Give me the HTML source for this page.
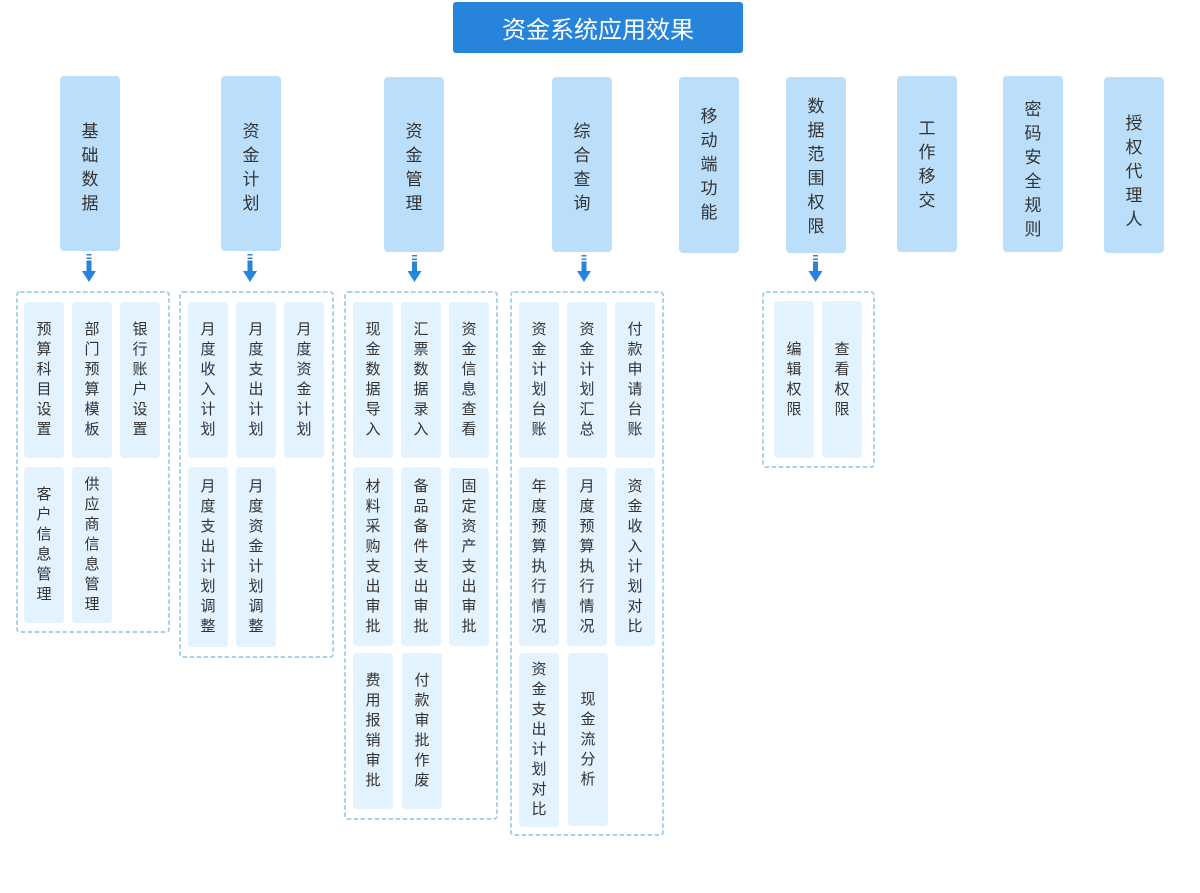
<!DOCTYPE html>
<html>
<head>
<meta charset="utf-8">
<style>
  html,body{margin:0;padding:0;background:#fff;}
  body{width:1200px;height:893px;position:relative;overflow:hidden;
    font-family:"Liberation Sans","Noto Sans CJK SC",sans-serif;color:#333;}
  .title{position:absolute;left:453px;top:2px;width:290px;height:51px;background:#2684db;
    border-radius:3px;color:#fff;font-size:24px;display:flex;align-items:center;justify-content:center;letter-spacing:0px;}
  .top{position:absolute;width:60px;background:#bbdffa;border-radius:4px;box-sizing:border-box;
    display:flex;align-items:center;justify-content:center;font-size:17px;line-height:24px;}
  .top span{display:block;width:18px;text-align:center;word-break:break-all;}
  .in{position:absolute;width:40px;background:#e2f2fe;border-radius:4px;
    display:flex;align-items:center;justify-content:center;font-size:15px;line-height:20px;}
  .in span{display:block;width:16px;text-align:center;word-break:break-all;}
  svg{position:absolute;left:0;top:0;}
</style>
</head>
<body>
<svg width="1200" height="893" viewBox="0 0 1200 893">
  <g fill="none" stroke="#9ecbe0" stroke-width="1.7" stroke-dasharray="4.5 2.5">
    <rect x="17" y="292" width="152" height="340" rx="3"/>
    <rect x="180" y="292" width="153" height="365" rx="3"/>
    <rect x="345" y="292" width="152" height="527" rx="3"/>
    <rect x="511" y="292" width="152" height="543" rx="3"/>
    <rect x="763" y="292" width="111" height="175" rx="3"/>
  </g>
  <g fill="#2684db">
    <g transform="translate(89,0)">
      <rect x="-2.5" y="254" width="5" height="1.5"/><rect x="-2.5" y="257.5" width="5" height="1.5"/>
      <rect x="-2.5" y="260.5" width="5" height="12"/><polygon points="-7,271 7,271 0,282"/>
    </g>
    <g transform="translate(250,0)">
      <rect x="-2.5" y="254" width="5" height="1.5"/><rect x="-2.5" y="257.5" width="5" height="1.5"/>
      <rect x="-2.5" y="260.5" width="5" height="12"/><polygon points="-7,271 7,271 0,282"/>
    </g>
    <g transform="translate(414.5,0)">
      <rect x="-2.5" y="255" width="5" height="1.5"/><rect x="-2.5" y="258.5" width="5" height="1.5"/>
      <rect x="-2.5" y="261.5" width="5" height="11"/><polygon points="-7,271 7,271 0,282"/>
    </g>
    <g transform="translate(584,0)">
      <rect x="-2.5" y="255" width="5" height="1.5"/><rect x="-2.5" y="258.5" width="5" height="1.5"/>
      <rect x="-2.5" y="261.5" width="5" height="11"/><polygon points="-7,271 7,271 0,282"/>
    </g>
    <g transform="translate(815.5,0)">
      <rect x="-2.5" y="255" width="5" height="1.5"/><rect x="-2.5" y="258.5" width="5" height="1.5"/>
      <rect x="-2.5" y="261.5" width="5" height="11"/><polygon points="-7,271 7,271 0,282"/>
    </g>
  </g>
</svg>

<div class="title">资金系统应用效果</div>

<div class="top" style="left:60px;top:76px;height:175px;padding-top:9px;"><span>基础数据</span></div>
<div class="top" style="left:221px;top:76px;height:175px;padding-top:8px;"><span>资金计划</span></div>
<div class="top" style="left:384px;top:77px;height:175px;padding-top:6px;"><span>资金管理</span></div>
<div class="top" style="left:552px;top:77px;height:175px;padding-top:7px;"><span>综合查询</span></div>
<div class="top" style="left:679px;top:77px;height:176px;"><span>移动端功能</span></div>
<div class="top" style="left:786px;top:77px;height:176px;padding-top:3px;"><span>数据范围权限</span></div>
<div class="top" style="left:897px;top:76px;height:176px;padding-top:1px;"><span>工作移交</span></div>
<div class="top" style="left:1003px;top:76px;height:176px;padding-top:11px;"><span>密码安全规则</span></div>
<div class="top" style="left:1104px;top:77px;height:176px;padding-top:13px;"><span>授权代理人</span></div>

<!-- C1 -->
<div class="in" style="left:24px;top:302px;height:156px;"><span>预算科目设置</span></div>
<div class="in" style="left:72px;top:302px;height:156px;"><span>部门预算模板</span></div>
<div class="in" style="left:120px;top:302px;height:156px;"><span>银行账户设置</span></div>
<div class="in" style="left:24px;top:467px;height:156px;"><span>客户信息管理</span></div>
<div class="in" style="left:72px;top:467px;height:156px;"><span>供应商信息管理</span></div>

<!-- C2 -->
<div class="in" style="left:188px;top:302px;height:156px;"><span>月度收入计划</span></div>
<div class="in" style="left:236px;top:302px;height:156px;"><span>月度支出计划</span></div>
<div class="in" style="left:284px;top:302px;height:156px;"><span>月度资金计划</span></div>
<div class="in" style="left:188px;top:467px;height:180px;"><span>月度支出计划调整</span></div>
<div class="in" style="left:236px;top:467px;height:180px;"><span>月度资金计划调整</span></div>

<!-- C3 -->
<div class="in" style="left:353px;top:302px;height:156px;"><span>现金数据导入</span></div>
<div class="in" style="left:401px;top:302px;height:156px;"><span>汇票数据录入</span></div>
<div class="in" style="left:449px;top:302px;height:156px;"><span>资金信息查看</span></div>
<div class="in" style="left:353px;top:467px;height:179px;"><span>材料采购支出审批</span></div>
<div class="in" style="left:401px;top:467px;height:179px;"><span>备品备件支出审批</span></div>
<div class="in" style="left:449px;top:468px;height:178px;"><span>固定资产支出审批</span></div>
<div class="in" style="left:353px;top:653px;height:156px;"><span>费用报销审批</span></div>
<div class="in" style="left:402px;top:653px;height:156px;"><span>付款审批作废</span></div>

<!-- C4 -->
<div class="in" style="left:519px;top:302px;height:156px;"><span>资金计划台账</span></div>
<div class="in" style="left:567px;top:302px;height:156px;"><span>资金计划汇总</span></div>
<div class="in" style="left:615px;top:302px;height:156px;"><span>付款申请台账</span></div>
<div class="in" style="left:519px;top:467px;height:179px;"><span>年度预算执行情况</span></div>
<div class="in" style="left:567px;top:467px;height:179px;"><span>月度预算执行情况</span></div>
<div class="in" style="left:615px;top:468px;height:178px;"><span>资金收入计划对比</span></div>
<div class="in" style="left:519px;top:653px;height:174px;"><span>资金支出计划对比</span></div>
<div class="in" style="left:568px;top:653px;height:173px;"><span>现金流分析</span></div>

<!-- C6 -->
<div class="in" style="left:774px;top:301px;height:157px;"><span>编辑权限</span></div>
<div class="in" style="left:822px;top:301px;height:157px;"><span>查看权限</span></div>
</body>
</html>
